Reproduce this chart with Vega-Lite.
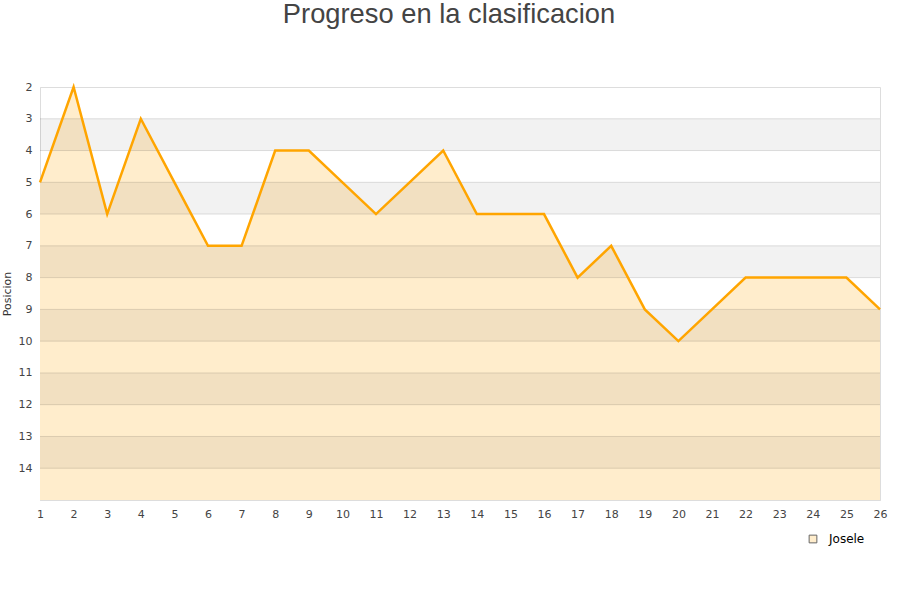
{
  "$schema": "https://vega.github.io/schema/vega-lite/v6.json",
  "width": 840,
  "height": 413,
  "autosize": {"type": "none"},
  "padding": {"left": 40, "top": 87, "right": 20, "bottom": 100},
  "background": "white",
  "title": {
    "text": "Progreso en la clasificacion",
    "fontSize": 27.3,
    "font": "Liberation Sans",
    "fontWeight": "normal",
    "color": "#444444",
    "anchor": "middle",
    "frame": "group",
    "dx": -11,
    "baseline": "alphabetic",
    "offset": 31
  },
  "config": {
    "view": {"stroke": "#dddddd"},
    "axis": {
      "labelFont": "DejaVu Sans",
      "labelFontSize": 11,
      "labelColor": "#444444",
      "ticks": false,
      "domainColor": "#dddddd",
      "grid": false,
      "labelOverlap": false,
      "tickCount": 40,
      "format": "d"
    }
  },
  "datasets": {
    "serie": [
      {"jornada": 1, "posicion": 5, "equipo": "Josele"},
      {"jornada": 2, "posicion": 2, "equipo": "Josele"},
      {"jornada": 3, "posicion": 6, "equipo": "Josele"},
      {"jornada": 4, "posicion": 3, "equipo": "Josele"},
      {"jornada": 5, "posicion": 5, "equipo": "Josele"},
      {"jornada": 6, "posicion": 7, "equipo": "Josele"},
      {"jornada": 7, "posicion": 7, "equipo": "Josele"},
      {"jornada": 8, "posicion": 4, "equipo": "Josele"},
      {"jornada": 9, "posicion": 4, "equipo": "Josele"},
      {"jornada": 10, "posicion": 5, "equipo": "Josele"},
      {"jornada": 11, "posicion": 6, "equipo": "Josele"},
      {"jornada": 12, "posicion": 5, "equipo": "Josele"},
      {"jornada": 13, "posicion": 4, "equipo": "Josele"},
      {"jornada": 14, "posicion": 6, "equipo": "Josele"},
      {"jornada": 15, "posicion": 6, "equipo": "Josele"},
      {"jornada": 16, "posicion": 6, "equipo": "Josele"},
      {"jornada": 17, "posicion": 8, "equipo": "Josele"},
      {"jornada": 18, "posicion": 7, "equipo": "Josele"},
      {"jornada": 19, "posicion": 9, "equipo": "Josele"},
      {"jornada": 20, "posicion": 10, "equipo": "Josele"},
      {"jornada": 21, "posicion": 9, "equipo": "Josele"},
      {"jornada": 22, "posicion": 8, "equipo": "Josele"},
      {"jornada": 23, "posicion": 8, "equipo": "Josele"},
      {"jornada": 24, "posicion": 8, "equipo": "Josele"},
      {"jornada": 25, "posicion": 8, "equipo": "Josele"},
      {"jornada": 26, "posicion": 9, "equipo": "Josele"}
    ],
    "bandas": [
      {"desde": 3, "hasta": 4},
      {"desde": 5, "hasta": 6},
      {"desde": 7, "hasta": 8},
      {"desde": 9, "hasta": 10},
      {"desde": 11, "hasta": 12},
      {"desde": 13, "hasta": 14}
    ],
    "rejilla": [
      {"nivel": 3}, {"nivel": 4}, {"nivel": 5}, {"nivel": 6}, {"nivel": 7}, {"nivel": 8},
      {"nivel": 9}, {"nivel": 10}, {"nivel": 11}, {"nivel": 12}, {"nivel": 13}, {"nivel": 14}
    ]
  },
  "layer": [
    {
      "data": {"name": "serie"},
      "mark": {"type": "area", "line": false},
      "encoding": {
        "x": {"field": "jornada", "type": "quantitative", "scale": {"domain": [1, 26], "nice": false, "zero": false},
          "axis": {"values": [1,2,3,4,5,6,7,8,9,10,11,12,13,14,15,16,17,18,19,20,21,22,23,24,25,26], "tickCount": 40, "format": "d", "title": null, "labelPadding": 8, "labelFlush": false, "labelOverlap": false}},
        "y": {"field": "posicion", "type": "quantitative", "scale": {"domain": [2, 15], "reverse": true, "nice": false, "zero": false},
          "axis": {"values": [2,3,4,5,6,7,8,9,10,11,12,13,14], "tickCount": 40, "format": "d", "labelOverlap": false, "title": "Posicion", "titleFont": "DejaVu Sans", "titleFontSize": 11, "titleFontWeight": "normal", "titleColor": "#333333", "titlePadding": 6, "labelPadding": 8}},
        "y2": {"datum": 15},
        "fill": {"field": "equipo", "type": "nominal", "scale": {"range": ["#ffedcc"]},
          "legend": {"title": null, "orient": "none", "legendX": 767, "legendY": 446, "symbolType": "square", "symbolSize": 60, "symbolStrokeColor": "#666666", "symbolStrokeWidth": 1, "labelOffset": 10, "labelFont": "DejaVu Sans", "labelFontSize": 12, "labelColor": "#000000"}}
      }
    },
    {
      "data": {"name": "bandas"},
      "mark": {"type": "rect", "fill": "#000000", "fillOpacity": 0.05},
      "encoding": {
        "y": {"field": "desde", "type": "quantitative"},
        "y2": {"field": "hasta"}
      }
    },
    {
      "data": {"name": "rejilla"},
      "mark": {"type": "rule", "color": "#000000", "opacity": 0.12, "strokeWidth": 1},
      "encoding": {
        "y": {"field": "nivel", "type": "quantitative"}
      }
    },
    {
      "data": {"name": "serie"},
      "mark": {"type": "line", "strokeWidth": 2.5, "color": "#ffa500"},
      "encoding": {
        "x": {"field": "jornada", "type": "quantitative"},
        "y": {"field": "posicion", "type": "quantitative"}
      }
    }
  ]
}
